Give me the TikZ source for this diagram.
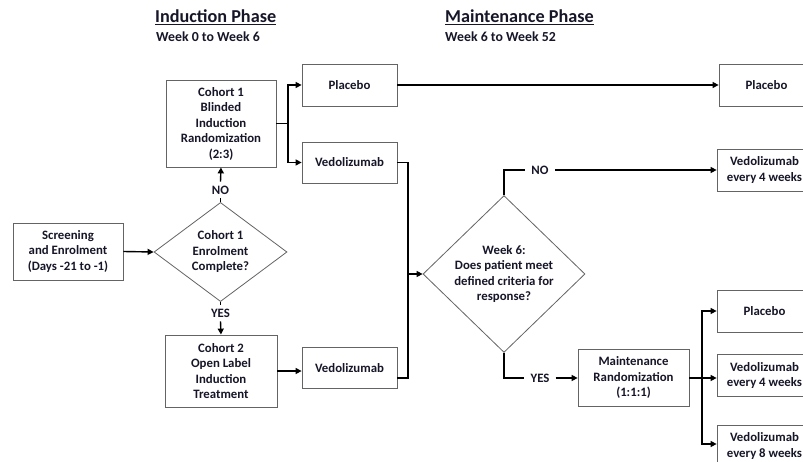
\documentclass[tikz,border=0pt]{standalone}
\usepackage{fontspec}
\setmainfont{Carlito}
\usetikzlibrary{shapes.geometric,arrows.meta}
\definecolor{txt}{RGB}{22,22,40}
\definecolor{bord}{RGB}{100,100,100}
\begin{document}
\begin{tikzpicture}[x=1pt,y=-1pt,
  every node/.style={text=txt},
  box/.style={draw=bord, line width=0.8pt, fill=white, align=center, inner sep=0pt,
    font=\bfseries\fontsize{12.8}{15.5}\selectfont},
  dec/.style={box, diamond},
  ln/.style={line width=1.4pt, draw=black},
  arr/.style={ln, -{Triangle[length=6pt,width=6pt]}},
  lbl/.style={font=\bfseries\fontsize{12.8}{15}\selectfont, inner xsep=6pt, inner ysep=4pt},
  ttl/.style={anchor=base west, inner sep=0pt, font=\bfseries\fontsize{18.2}{21}\selectfont},
  sub/.style={anchor=base west, inner sep=0pt, font=\bfseries\fontsize{13.8}{16}\selectfont}
]
\useasboundingbox (0,0) rectangle (803,462);
\clip (0,0) rectangle (803,462);
\fill[white] (0,0) rectangle (803,462);

% titles
\node[ttl] (t1) at (155,23) {\underline{Induction Phase}};
\node[sub] (s1) at (156,42) {Week 0 to Week 6};
\node[ttl] (t2) at (445,23) {\underline{Maintenance Phase}};
\node[sub] (s2) at (445,42) {Week 6 to Week 52};

% induction
\node[box, minimum width=110pt, minimum height=57pt] (scr) at (68,251.5) {Screening\\and Enrolment\\(Days -21 to -1)};
\node[dec, minimum width=133pt, minimum height=94pt] (d1) at (220.5,252) {Cohort 1\\Enrolment\\Complete?};
\node[box, minimum width=110pt, minimum height=87pt] (c1) at (221,123.5) {Cohort 1\\Blinded\\Induction\\Randomization\\(2:3)};
\node[box, minimum width=112pt, minimum height=72pt] (c2) at (221,371) {Cohort 2\\Open Label\\Induction\\Treatment};
\node[box, minimum width=95pt, minimum height=42pt] (p1) at (349.5,85) {Placebo};
\node[box, minimum width=95pt, minimum height=41pt] (v1) at (349.5,162.5) {Vedolizumab};
\node[box, minimum width=95pt, minimum height=41pt] (v2) at (349.5,368) {Vedolizumab};

% maintenance
\node[dec, minimum width=162pt, minimum height=102pt] (d2) at (504,274) {Week 6:\\Does patient meet\\defined criteria for\\response?};
\node[box, minimum width=95pt, minimum height=42pt] (pm) at (766.5,85) {Placebo};
\node[box, minimum width=95pt, minimum height=42pt] (vq4a) at (764.5,170) {Vedolizumab\\every 4 weeks};
\node[box, minimum width=111pt, minimum height=57pt] (mr) at (633.5,377.5) {Maintenance\\Randomization\\(1:1:1)};
\node[box, minimum width=95pt, minimum height=42pt] (pm2) at (764.5,311) {Placebo};
\node[box, minimum width=95pt, minimum height=42pt] (vq4b) at (764.5,375.5) {Vedolizumab\\every 4 weeks};
\node[box, minimum width=95pt, minimum height=42pt] (vq8) at (764.5,446) {Vedolizumab\\every 8 weeks};

% labels
\node[lbl] (no1) at (220.5,190) {NO};
\node[lbl] (yes1) at (220.5,313) {YES};
\node[lbl] (no2) at (540,170) {NO};
\node[lbl] (yes2) at (540,378) {YES};

% connectors
\coordinate (j1) at (288,123.5);
\coordinate (j2) at (408,274);
\coordinate (j3) at (702,378);
\coordinate (y378) at (0,378);

\draw[arr] (scr.east) -- (d1.west);
\draw[ln] (d1.north) -- (no1.south);
\draw[arr] (no1.north) -- (c1.south);
\draw[ln] (d1.south) -- (yes1.north);
\draw[arr] (yes1.south) -- (c2.north);
\draw[ln] (c1.east) -- (j1);
\draw[arr] (j1) |- (p1.west);
\draw[arr] (j1) |- (v1.west);
\draw[arr] (c2.east) -- (c2.east -| v2.west);
\draw[ln] (v1.east) -| (j2);
\draw[ln] (v2.east |- y378) -| (j2);
\draw[arr] (j2) -- (d2.west);
\draw[arr] (p1.east) -- (pm.west);
\draw[ln] (d2.north) |- (no2.west);
\draw[arr] (no2.east) -- (vq4a.west);
\draw[ln] (d2.south) |- (yes2.west);
\draw[arr] (yes2.east) -- (yes2.east -| mr.west);
\draw[ln] (mr.east |- j3) -- (j3);
\draw[arr] (j3) |- (pm2.west);
\draw[arr] (j3) -- (j3 -| vq4b.west);
\draw[arr] (j3) |- ([yshift=2pt]vq8.west);
\end{tikzpicture}
\end{document}
